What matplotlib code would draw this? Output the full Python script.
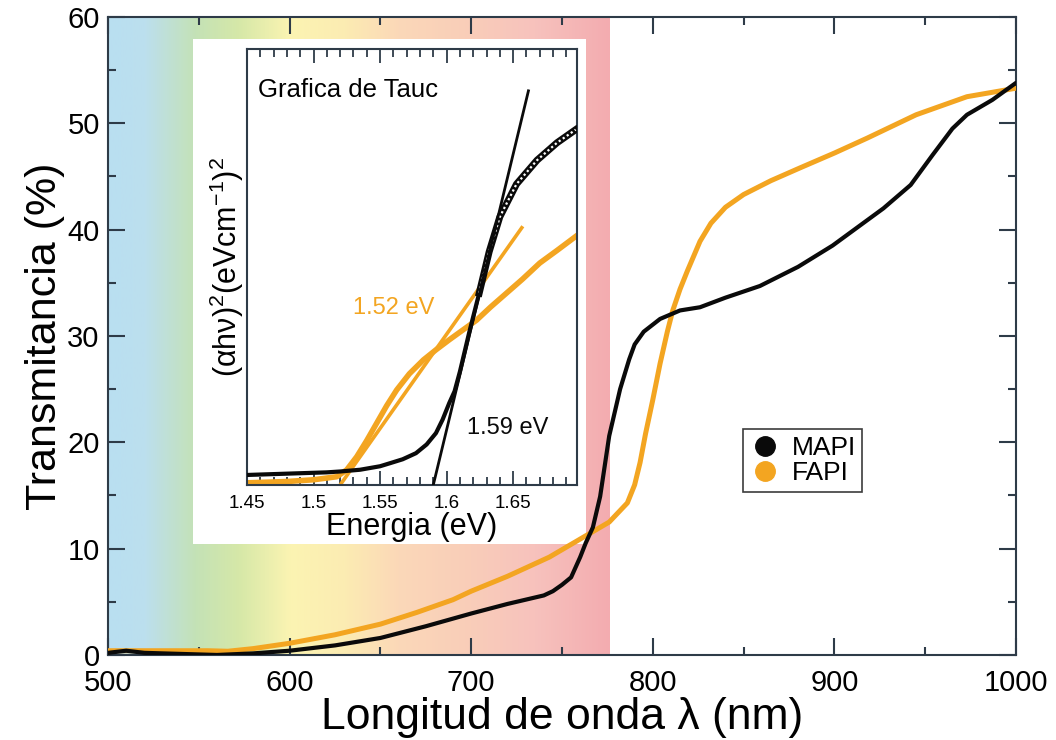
import numpy as np
import matplotlib
matplotlib.use('Agg')
import matplotlib.pyplot as plt
from matplotlib.colors import LinearSegmentedColormap
from matplotlib.patches import Rectangle
from matplotlib.lines import Line2D

plt.rcParams['font.family'] = ['Liberation Sans', 'DejaVu Sans']
plt.rcParams['mathtext.fontset'] = 'custom'
plt.rcParams['mathtext.rm'] = 'Liberation Sans'
plt.rcParams['mathtext.it'] = 'Liberation Sans:italic'

# transmittance spectra (nm, %)
lam_mapi = [500, 510, 520, 540, 560, 580, 600, 625, 650, 675, 700, 720, 730, 740,
            745, 750, 755, 760, 763, 767, 771, 776, 782, 787, 790, 795, 804, 815,
            826, 840, 859, 880, 899, 915, 927, 942, 954, 965, 973, 987, 1000]
T_mapi = [0.2, 0.4, 0.2, 0.1, 0.0, 0.15, 0.4, 0.9, 1.6, 2.7, 3.9, 4.8, 5.2, 5.6,
          6.0, 6.6, 7.3, 9.2, 10.5, 12.0, 14.9, 20.6, 25.0, 27.8, 29.2, 30.4, 31.6, 32.4,
          32.7, 33.6, 34.7, 36.5, 38.5, 40.5, 42.0, 44.2, 47.0, 49.5, 50.8, 52.2, 53.8]

lam_fapi = [500, 530, 555, 566, 580, 600, 625, 650, 670, 690, 700, 720, 743, 764,
            776, 786, 790, 793, 796, 800, 804, 808, 811, 815, 819, 822, 826, 832,
            840, 850, 865, 881, 900, 918, 945, 973, 1000]
T_fapi = [0.4, 0.4, 0.4, 0.35, 0.6, 1.1, 1.9, 2.9, 4.0, 5.2, 6.0, 7.4, 9.2, 11.3,
          12.5, 14.3, 16.0, 18.1, 20.8, 24.0, 27.4, 30.4, 32.4, 34.4, 36.1, 37.3, 38.9, 40.6,
          42.1, 43.3, 44.6, 45.8, 47.2, 48.6, 50.8, 52.5, 53.3]

# Tauc plot data (eV, arb. units)
E_mapi = [1.45, 1.47, 1.49, 1.51, 1.52, 1.535, 1.55, 1.5575, 1.567, 1.577, 1.585,
          1.592, 1.597, 1.602, 1.606, 1.610, 1.617, 1.6245, 1.632, 1.640, 1.6525,
          1.668, 1.683, 1.697]
A_mapi = [2.3, 2.5, 2.7, 2.9, 3.1, 3.5, 4.3, 5.0, 5.9, 7.3, 9.3,
          11.9, 15.0, 18.8, 21.5, 26.0, 35.0, 44.0, 53.5, 61.5, 69.0,
          74.5, 78.5, 81.5]
E_fapi = [1.45, 1.48, 1.50, 1.5175, 1.525, 1.5325, 1.54, 1.5475, 1.555, 1.5625,
          1.572, 1.5826, 1.592, 1.602, 1.612, 1.6225, 1.633, 1.645, 1.657, 1.670,
          1.683, 1.697]
A_fapi = [0.5, 0.8, 1.2, 1.9, 3.5, 6.5, 10.2, 14.2, 18.2, 21.8,
          25.5, 28.7, 31.0, 33.3, 35.5, 37.8, 40.8, 44.0, 47.2, 50.9,
          53.8, 57.0]

# linear fits (x-intercept = band gap)
fit_mapi_E = [1.59, 1.6615]
fit_mapi_A = [0.0, 90.4]
fit_fapi_E = [1.52, 1.6565]
fit_fapi_A = [0.0, 59.0]

inset_ticks = [1.45, 1.5, 1.55, 1.6, 1.65]
inset_ticklabels = ['1.45', '1.5', '1.55', '1.6', '1.65']

black = '#0a0a0a'
orange = '#f3a521'
spine_col = '#2e3b48'

fig = plt.figure(figsize=(10.56, 7.4), dpi=100)
ax = fig.add_axes([0.1023, 0.1149, 0.8598, 0.8622])

# visible spectrum band
stops = [(500, '#b9dff1'), (520, '#bcdfee'), (548, '#c4e2b6'), (572, '#d6e8a8'),
         (600, '#fbf4b2'), (630, '#fcecb2'), (660, '#fbd8b8'), (700, '#f9cdb9'),
         (735, '#f7c2bd'), (776, '#f3acb0')]
lo, hi = stops[0][0], stops[-1][0]
cmap = LinearSegmentedColormap.from_list(
    'spec', [((w - lo) / (hi - lo), c) for w, c in stops])
grad = np.linspace(0, 1, 512)[None, :]
ax.imshow(grad, cmap=cmap, extent=[lo, hi, 0, 60], aspect='auto', zorder=0)

# white backing for the inset
ax.add_patch(Rectangle((547, 10.4), 216, 47.5, facecolor='white',
                       edgecolor='none', zorder=1))

ax.plot(lam_fapi, T_fapi, color=orange, lw=3.6, zorder=3, solid_capstyle='round')
ax.plot(lam_mapi, T_mapi, color=black, lw=3.0, zorder=4, solid_capstyle='round')

ax.set_xlim(500, 1000)
ax.set_ylim(0, 60)
ax.set_xticks([500, 600, 700, 800, 900, 1000])
ax.set_xticks([550, 650, 750, 850, 950], minor=True)
ax.set_yticks([0, 10, 20, 30, 40, 50, 60])
ax.set_yticks([5, 15, 25, 35, 45, 55], minor=True)
ax.tick_params(which='both', direction='in', top=True, right=True,
               labelsize=21, color=spine_col, width=1.5, pad=6)
ax.tick_params(axis='x', which='both', pad=10)
ax.tick_params(which='major', length=12)
ax.tick_params(which='minor', length=6)
for s in ax.spines.values():
    s.set_color(spine_col)
    s.set_linewidth(1.5)
ax.set_xlabel('Longitud de onda λ (nm)', fontsize=32, labelpad=0)
ax.set_ylabel('Transmitancia (%)', fontsize=31, labelpad=2)

handles = [Line2D([], [], ls='none', marker='o', ms=14, color=black),
           Line2D([], [], ls='none', marker='o', ms=14, color=orange)]
leg = ax.legend(handles, ['MAPI', 'FAPI'], loc='lower left',
                bbox_to_anchor=(0.699, 0.2555), borderaxespad=0, fontsize=19,
                frameon=True, fancybox=False, handletextpad=0.4,
                handlelength=1.2, borderpad=0.25, labelspacing=0.05)
leg.get_frame().set_edgecolor(black)
leg.get_frame().set_linewidth(1.2)

# Tauc plot inset
ins = fig.add_axes([0.2339, 0.3446, 0.3125, 0.5892])
ins.plot(E_fapi, A_fapi, color=orange, lw=4.0, zorder=2)
ins.plot(fit_fapi_E, fit_fapi_A, color=orange, lw=2.6, zorder=2)
ins.plot(E_mapi[:18], A_mapi[:18], color=black, lw=3.0, zorder=3)
# upper part of the MAPI data drawn as a hollow chain of points
ins.plot(E_mapi[17:], A_mapi[17:], color=black, lw=5.0, zorder=3)
ins.plot(E_mapi[17:], A_mapi[17:], color='white', lw=1.6, ls=(0, (1, 1.2)), zorder=4)
ins.plot(fit_mapi_E, fit_mapi_A, color=black, lw=2.0, zorder=5)
ins.set_xlim(1.45, 1.698)
ins.set_ylim(0, 100)
ins.set_xticks(inset_ticks)
ins.set_xticklabels(inset_ticklabels)
ins.set_xticks(np.arange(1.46, 1.70, 0.01), minor=True)
ins.set_yticks([])
ins.tick_params(which='both', direction='in', top=True, labelsize=13.5,
                color=spine_col, width=1.3, pad=7)
ins.tick_params(which='major', length=10)
ins.tick_params(which='minor', length=5.5)
for s in ins.spines.values():
    s.set_color(spine_col)
    s.set_linewidth(1.5)
ins.set_xlabel('Energia (eV)', fontsize=22, labelpad=0)
ins.set_ylabel('(αhν)$^2$(eVcm$^{-1}$)$^2$', fontsize=22, labelpad=1)
ins.text(1.4583, 90.6, 'Grafica de Tauc', fontsize=18.5, va='center', ha='left')
ins.text(1.5297, 40.6, '1.52 eV', fontsize=17, color=orange, va='center', ha='left')
ins.text(1.6154, 13.1, '1.59 eV', fontsize=17, color=black, va='center', ha='left')

fig.savefig('out.png', dpi=100)
